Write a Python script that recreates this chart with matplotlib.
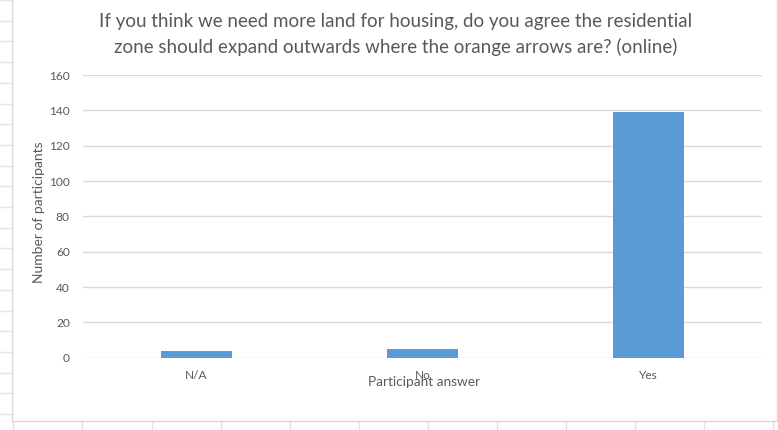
import matplotlib
matplotlib.use("Agg")
import matplotlib.pyplot as plt
from matplotlib.lines import Line2D
from matplotlib.patches import Rectangle

categories = ["N/A", "No", "Yes"]
participants = [4, 5, 139]
y_ticks = [0, 20, 40, 60, 80, 100, 120, 140, 160]

title = ("If you think we need more land for housing, do you agree the residential\n"
         "zone should expand outwards where the orange arrows are? (online)")
x_label = "Participant answer"
y_label = "Number of participants"

W, H = 778, 430
plt.rcParams["font.family"] = ["Lato", "DejaVu Sans"]
text_grey = "#595959"
grid_grey = "#d9d9d9"
bar_blue = "#5B9BD5"

fig = plt.figure(figsize=(W / 100, H / 100), dpi=100)
fig.patch.set_facecolor("white")

def px_x(x):
    return x / W

def px_y(y):
    return 1 - y / H

# spreadsheet cells around the chart object
cell_grey = "#e3e3e3"
y = 414
while y > 0:
    fig.add_artist(Line2D([0, px_x(12)], [px_y(y), px_y(y)], color=cell_grey, lw=1, zorder=-2))
    y -= 20.7
for x in [13, 82, 152, 221, 290, 359, 428, 497, 566, 635, 704, 773]:
    fig.add_artist(Line2D([px_x(x), px_x(x)], [0, px_y(421)], color=cell_grey, lw=1, zorder=-2))

# chart object frame
fig.add_artist(Rectangle((px_x(12), px_y(421)), px_x(777 - 12), px_y(0) - px_y(421) + 0.01,
                         transform=fig.transFigure, facecolor="white",
                         edgecolor=grid_grey, lw=1, zorder=-1))

ax = fig.add_axes([px_x(83), px_y(357.7), px_x(762 - 83), px_y(75) - px_y(357.7)])
ax.set_zorder(1)
ax.set_facecolor("none")
ax.bar(range(len(categories)), participants, width=0.314, color=bar_blue, zorder=3)
ax.set_xlim(-0.5, len(categories) - 0.5)
ax.set_ylim(0, 160)
ax.set_yticks(y_ticks)
ax.set_xticks(range(len(categories)))
ax.set_xticklabels(categories)
ax.grid(axis="y", color=grid_grey, lw=1, zorder=0)
ax.set_axisbelow(True)
for s in ax.spines.values():
    s.set_visible(False)
ax.tick_params(axis="both", length=0, colors=text_grey, labelsize=8.6)
ax.tick_params(axis="y", pad=9.5)
ax.tick_params(axis="x", pad=8.5)

fig.text(px_x(396), px_y(34.5), title, ha="center", va="center", fontsize=13.5,
         color=text_grey, linespacing=1.55, zorder=2)
fig.text(px_x(424), px_y(382), x_label, ha="center", va="center", fontsize=9.8,
         color=text_grey, zorder=2)
fig.text(px_x(39), px_y(212), y_label, ha="center", va="center", rotation=90,
         fontsize=10, color=text_grey, zorder=2)

fig.savefig("out.png", dpi=100, facecolor="white")
